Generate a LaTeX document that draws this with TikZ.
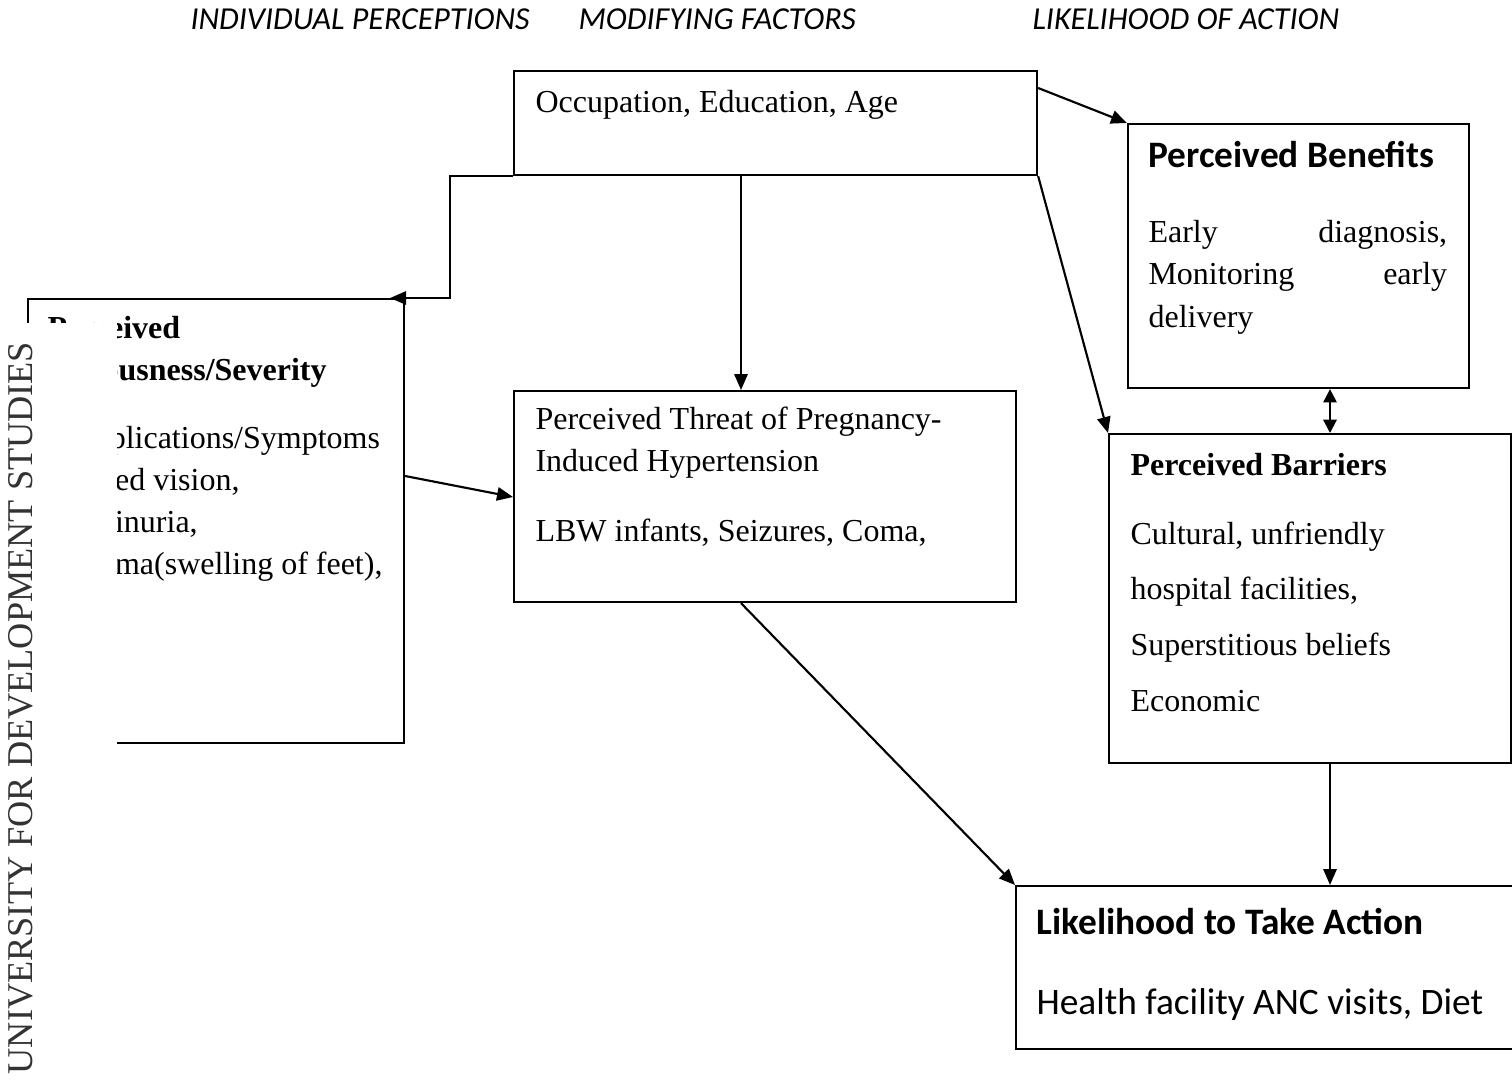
\documentclass[tikz,border=0pt]{standalone}
\usepackage{fontspec}
\setmainfont{Liberation Serif}
\newfontfamily\calfont{Carlito}
\usetikzlibrary{arrows.meta,calc}
\newcommand\pxu{0.375pt}
\tikzset{
  box/.style={draw,line width=0.8pt,rectangle,anchor=north west,inner sep=0pt},
  txt/.style={anchor=base west,inner sep=0pt,align=flush left,font=\fontsize{12}{15.75}\selectfont},
  calhead/.style={anchor=base west,inner sep=0pt,font=\calfont\bfseries\fontsize{14}{17}\selectfont},
  head/.style={anchor=base west,inner sep=0pt,font=\calfont\itshape\fontsize{12}{14}\selectfont},
  arr/.style={line width=0.8pt,-{Triangle[length=6pt,width=5pt]}},
  dbl/.style={line width=0.8pt,{Triangle[length=5pt,width=5pt]}-{Triangle[length=5pt,width=5pt]}},
}
\begin{document}
\begin{tikzpicture}[x=0.375pt,y=-0.375pt]
  \useasboundingbox (0,0) rectangle (1512,1084);
  % column headings
  \node[head] (hind) at (190,30) {INDIVIDUAL PERCEPTIONS};
  \node[head] (hmod) at (578,30) {MODIFYING FACTORS};
  \node[head] (hact) at (1032,30) {LIKELIHOOD OF ACTION};
  % boxes
  \node[box,minimum width=523*\pxu,minimum height=104*\pxu] (occ) at (513,70) {};
  \node[box,minimum width=341*\pxu,minimum height=264*\pxu] (ben) at (1127,123) {};
  \node[box,minimum width=402*\pxu,minimum height=329*\pxu] (bar) at (1108,433) {};
  \node[box,minimum width=520*\pxu,minimum height=163*\pxu] (act) at (1015,885) {};
  \node[box,minimum width=502*\pxu,minimum height=211*\pxu] (thr) at (513,390) {};
  \node[box,minimum width=376*\pxu,minimum height=444*\pxu] (sev) at (27,298) {};
  % texts
  \node[txt] (occtxt) at (535,112) {Occupation, Education, Age};
  \node[calhead] (bentitle) at (1148,168) {Perceived Benefits};
  \node[txt,text width=112pt,font=\fontsize{12}{16.1}\selectfont] (bentxt) at (1148,242)
    {Early\hfill diagnosis,\\Monitoring\hfill early\\delivery};
  \node[txt] (bartitle) at (1130,475) {\textbf{Perceived Barriers}};
  \node[txt,text width=140pt,font=\fontsize{12}{20.9}\selectfont] (bartxt) at (1130,544)
    {Cultural, unfriendly\\hospital facilities,\\Superstitious beliefs\\Economic};
  \node[calhead] (acttitle) at (1036,934) {Likelihood to Take Action};
  \node[txt,font=\calfont\fontsize{14}{17}\selectfont] (acttxt) at (1036,1014) {Health facility ANC visits, Diet};
  \node[txt,text width=180pt] (thrtxt) at (535,429)
    {Perceived Threat of Pregnancy-\\Induced Hypertension\\[10.5pt]LBW infants, Seizures, Coma,};
  \node[txt,text width=135pt] (sevtxt) at (47,338)
    {\textbf{Perceived}\\\textbf{Seriousness/Severity}\\[10pt]Complications/Symptoms\\Blurred vision,\\Proteinuria,\\Oedema(swelling of feet),};
  % connectors
  \coordinate (sevin) at ($(sev.north east)+(-15,0)$);
  \draw[arr] (occ.south west) -- ++(-63,0) |- (sevin);
  \draw[arr] ($(occ.south west)+(228,0)$) -- ($(thr.north west)+(228,0)$);
  \draw[arr] ($(occ.north east)+(0,18)$) -- (ben.north west);
  \draw[arr] (occ.south east) -- (bar.north west);
  \draw[arr] ($(sev.north east)+(0,178)$) -- ($(thr.north west)+(0,107)$);
  \draw[dbl] ($(ben.south west)+(203,0)$) -- ($(bar.north west)+(222,0)$);
  \draw[arr] ($(bar.south west)+(222,0)$) -- ($(act.north west)+(315,0)$);
  \draw[arr] ($(thr.south west)+(228,0)$) -- (act.north west);
  % watermark strip
  \fill[white] (0,323) rectangle (117,1084);
  \node[rotate=90,inner sep=0pt,text=black!80,font=\fontsize{13.6}{14}\selectfont] (wmark) at (21,708)
    {UNIVERSITY FOR DEVELOPMENT STUDIES};
\end{tikzpicture}
\end{document}
